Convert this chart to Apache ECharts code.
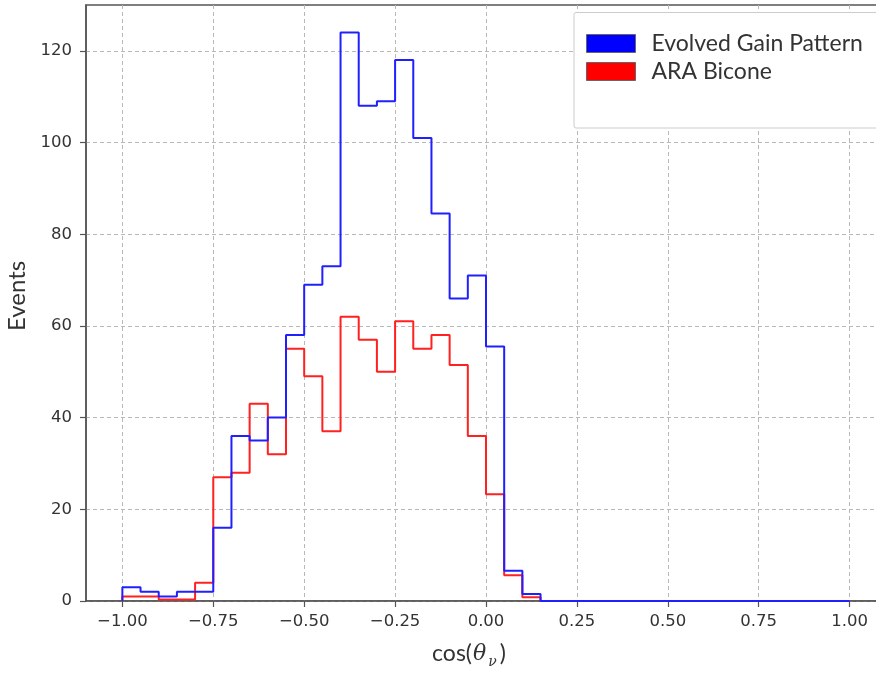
<!DOCTYPE html>
<html>
<head>
<meta charset="utf-8">
<script src="https://cdn.jsdelivr.net/npm/echarts@6/dist/echarts.min.js"></script>
<style>
  html, body { margin: 0; padding: 0; background: #fff; }
  #chart { width: 876px; height: 675px; }
</style>
</head>
<body>
<div id="chart"></div>
<script>
// ---- data ----
const binStart = -1.0;
const binWidth = 0.05;
const seriesNames = ['Evolved Gain Pattern', 'ARA Bicone'];
const evolvedCounts = [3, 2, 1, 2, 2, 16, 36, 35, 40, 58, 69, 73, 124, 108, 109, 118, 101, 84.5, 66, 71, 55.5, 6.6, 1.5, 0,
  0, 0, 0, 0, 0, 0, 0, 0, 0, 0, 0, 0, 0, 0, 0, 0];
const araCounts = [1, 1, 0.3, 0.3, 4, 27, 28, 43, 32, 55, 49, 37, 62, 57, 50, 61, 55, 58, 51.5, 36, 23.3, 5.6, 0.8, 0,
  0, 0, 0, 0, 0, 0, 0, 0, 0, 0, 0, 0, 0, 0, 0, 0];
const xTickValues = [-1.0, -0.75, -0.5, -0.25, 0.0, 0.25, 0.5, 0.75, 1.0];
const yTickValues = [0, 20, 40, 60, 80, 100, 120];

// Build step outline points (bin edges) for a histogram outline
function stepPoints(counts) {
  const pts = [[binStart, 0]];
  for (let i = 0; i < counts.length; i++) {
    pts.push([binStart + i * binWidth, counts[i]]);
  }
  const lastEdge = binStart + counts.length * binWidth;
  pts.push([lastEdge, counts[counts.length - 1]]);
  pts.push([lastEdge, 0]);
  return pts.map(p => [Math.round(p[0] * 1000) / 1000, p[1]]);
}

const fmtTick = v => (v < 0 ? '\u2212' : '') + Math.abs(v).toFixed(2);

const chart = echarts.init(document.getElementById('chart'), null, { renderer: 'canvas' });

const gridColor = '#b8b8b8';
const axisColor = '#555';

chart.setOption({
  animation: false,
  backgroundColor: '#fff',
  grid: {
    left: 86, width: 800, top: 5, height: 596,
    outerBoundsMode: 'none',
    containLabel: false,
    show: true, borderColor: axisColor, borderWidth: 1.5, backgroundColor: 'transparent'
  },
  graphic: [{
    type: 'rect',
    z: 3,
    shape: { x: 574, y: 12.5, width: 340, height: 115.5, r: 2 },
    style: { fill: '#fff', stroke: '#cccccc', lineWidth: 1 }
  }],
  legend: {
    orient: 'vertical',
    left: 574, top: 12,
    padding: [20, 10, 10, 12],
    z: 5,
    itemWidth: 49,
    itemHeight: 18,
    itemGap: 5,
    textStyle: { fontFamily: 'Lato', fontSize: 23, color: '#333', padding: [0, 0, 0, 11] },
    data: [
      { name: seriesNames[0], icon: 'rect', itemStyle: { color: '#0000ff', borderColor: '#666', borderWidth: 1 } },
      { name: seriesNames[1], icon: 'rect', itemStyle: { color: '#ff0000', borderColor: '#666', borderWidth: 1 } }
    ]
  },
  xAxis: {
    type: 'value',
    min: -1.1, max: 1.1,
    name: '{n|cos(}{t|\u03B8}{s|\u03BD}{n|)}',
    nameLocation: 'middle',
    nameGap: 38,
    nameTextStyle: {
      padding: [0, 34, 0, 0],
      rich: {
        n: { fontFamily: 'Lato', fontSize: 23, color: '#333' },
        t: { fontFamily: 'DejaVu Serif', fontStyle: 'italic', fontSize: 22, color: '#333', padding: [0, 2, 0, 1] },
        s: { fontFamily: 'DejaVu Serif', fontStyle: 'italic', fontSize: 14, color: '#333', padding: [16, 3, 0, 0] }
      }
    },
    axisLine: { show: true, onZero: false, lineStyle: { color: axisColor, width: 1.5 } },
    axisTick: { show: true, length: 6, customValues: xTickValues, lineStyle: { color: axisColor, width: 1.2 } },
    axisLabel: {
      customValues: xTickValues,
      formatter: fmtTick,
      fontFamily: 'DejaVu Sans', fontSize: 16.5, color: '#333', margin: 12
    },
    splitLine: { show: true, lineStyle: { color: gridColor, type: [4, 3], width: 1 } }
  },
  yAxis: {
    type: 'value',
    min: 0, max: 130, interval: 20,
    name: 'Events',
    nameLocation: 'middle',
    nameGap: 57,
    nameTextStyle: { fontFamily: 'Lato', fontSize: 24, color: '#333', padding: [0, 0, 0, 14] },
    axisLine: { show: true, onZero: false, lineStyle: { color: axisColor, width: 1.5 } },
    axisTick: { show: true, length: 6, customValues: yTickValues, lineStyle: { color: axisColor, width: 1.2 } },
    axisLabel: {
      customValues: yTickValues,
      fontFamily: 'DejaVu Sans', fontSize: 16.5, color: '#333', margin: 14
    },
    splitLine: { show: true, lineStyle: { color: gridColor, type: [4, 3], width: 1 } }
  },
  series: [
    {
      name: seriesNames[1], type: 'line', step: 'end', symbol: 'none', z: 2,
      color: '#ff0000',
      lineStyle: { color: '#ff2020', width: 2 },
      data: stepPoints(araCounts)
    },
    {
      name: seriesNames[0], type: 'line', step: 'end', symbol: 'none', z: 2,
      color: '#0000ff',
      lineStyle: { color: '#2020ff', width: 2 },
      data: stepPoints(evolvedCounts)
    }
  ]
});
</script>
</body>
</html>
